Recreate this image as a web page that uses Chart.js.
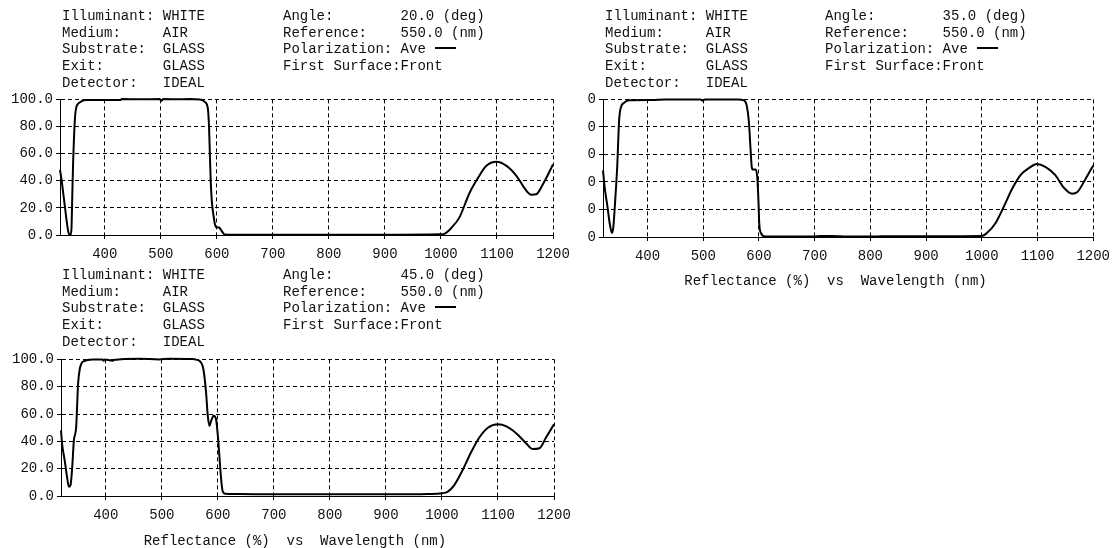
<!DOCTYPE html>
<html>
<head>
<meta charset="utf-8">
<script src="https://cdn.jsdelivr.net/npm/chart.js@4/dist/chart.umd.min.js"></script>
<style>
  body { margin: 0; width: 1117px; height: 548px; background: #fff; position: relative; overflow: hidden;
         font-family: "Liberation Mono", "Courier New", monospace; font-size: 14px; color: #111; }
  .hdr { position: absolute; white-space: pre; line-height: 16.7px; }
  .pol { display: inline-block; width: 21px; height: 0; border-top: 2px solid #000; vertical-align: 4px; margin-left: 9px; }
  .box { position: absolute; }
  .clip { position: absolute; overflow: hidden; }
</style>
</head>
<body>

<div class="box" style="left:0;top:88px"><canvas id="c20" width="580" height="180"></canvas></div>
<div class="clip" style="left:586px;top:88px;width:531px;height:210px">
  <canvas id="c35" width="574" height="210" style="position:absolute;left:-43px;top:0"></canvas>
</div>
<div class="box" style="left:0;top:348px"><canvas id="c45" width="580" height="200"></canvas></div>

<script>
// wavelength (nm) / reflectance (%)
const wl20 = [320, 323, 326, 329, 332, 335, 337, 339, 340.5, 342, 343.5, 345, 347, 349, 353, 358, 367, 400, 427, 430, 498, 501, 504, 507, 552, 570, 579, 584, 586, 587.5, 589, 591, 594.5, 596, 598, 604, 607, 611, 614, 620, 700, 800, 900, 1000, 1007, 1018, 1033, 1051, 1066, 1081, 1099, 1117, 1135, 1150, 1161, 1170, 1182, 1200];
const r20 = [48, 40, 30, 20, 10, 2, 0.3, 0.3, 5, 30, 55, 72, 88, 94, 97, 98.5, 99.5, 99.5, 99.5, 100.3, 100.3, 99, 100.3, 100.3, 100.3, 100, 98, 93, 80, 60, 40, 25, 13, 9, 6, 5.5, 4, 1.5, 0.3, 0.2, 0.2, 0.2, 0.2, 0.5, 1, 5, 13, 31, 42, 51, 54, 51, 43.5, 34, 29.7, 30, 37.5, 52];

const wl35 = [320, 323, 328, 332, 336, 338.5, 341.5, 345.5, 349, 352, 358, 367, 408, 432, 495, 499, 503, 563, 572, 578, 582, 585, 587, 589, 594, 597, 599, 600.5, 603.5, 611, 650, 700, 710, 730, 760, 800, 820, 850, 900, 950, 1000, 1009.5, 1024.5, 1039.5, 1054.5, 1069.5, 1084.5, 1099, 1114, 1132, 1147, 1162, 1171, 1186, 1200];
const r35 = [48.4, 36, 22, 10, 3, 7, 24, 51, 85, 94, 97.6, 99.3, 99.5, 100, 100, 99, 100, 100, 99.5, 95.5, 83, 63, 51, 49, 49, 43, 27, 10, 3, 0.3, 0.3, 0.3, 0.7, 0.7, 0.3, 0.3, 0.6, 0.6, 0.6, 0.6, 0.7, 3, 10, 22, 35, 45, 50, 53, 51, 45, 36, 31.5, 32.5, 42, 52];

const wl45 = [320, 322, 326.6, 330.8, 334, 337, 340, 343, 347, 350.5, 353.5, 361, 376, 394, 396, 398, 412, 414, 460, 495, 513, 555, 567, 573, 576, 579, 582, 585, 588, 592.5, 596.8, 600, 602.7, 605.7, 608.6, 613, 638, 700, 800, 900, 975, 1000, 1010, 1022, 1037, 1052, 1067, 1082, 1100, 1115, 1133, 1150.5, 1162, 1174, 1186, 1200];
const r45 = [48, 38, 26, 14, 6.8, 8, 21, 40.7, 50, 82, 93, 98.8, 100, 100, 99, 100, 99, 99.5, 100.5, 100, 100.5, 100.3, 99, 95, 87.6, 75.5, 58.6, 51.3, 55, 58.7, 56, 44, 29.5, 13, 3.4, 1.7, 1.5, 1.2, 1.2, 1.2, 1.5, 2, 3, 8, 19, 32, 43, 50, 52.5, 51, 45.8, 38.5, 34.4, 35, 43, 52.5];

const angles = ["20.0", "35.0", "45.0"];
const xTitle = "Reflectance (%)  vs  Wavelength (nm)   ";

const FONT = "'Liberation Mono', 'Courier New', monospace";

function header(left, right, top, angle) {
  const a = document.createElement("div");
  a.className = "hdr";
  a.style.left = left + "px";
  a.style.top = top + "px";
  a.textContent = "Illuminant: WHITE\nMedium:     AIR\nSubstrate:  GLASS\nExit:       GLASS\nDetector:   IDEAL";
  document.body.appendChild(a);

  const b = document.createElement("div");
  b.className = "hdr";
  b.style.left = right + "px";
  b.style.top = top + "px";
  b.innerHTML = "Angle:        " + angle + " (deg)\nReference:    550.0 (nm)\nPolarization: Ave<span class=\"pol\"></span>\nFirst Surface:Front";
  document.body.appendChild(b);
}

header(62, 283, 8, angles[0]);
header(605, 825, 8, angles[1]);
header(62, 283, 267, angles[2]);

function makeChart(id, wl, refl, o) {
  const points = wl.map((w, i) => ({ x: w, y: refl[i] }));
  const font = { family: FONT, size: 14 };
  return new Chart(document.getElementById(id), {
    type: "line",
    data: {
      datasets: [{
        data: points,
        borderColor: "#000",
        borderWidth: 2,
        pointRadius: 0,
        fill: false,
        cubicInterpolationMode: "monotone",
        clip: 4,
      }],
    },
    options: {
      responsive: false,
      animation: false,
      events: [],
      layout: { padding: { top: o.padTop, right: o.padRight, left: 0, bottom: 0 } },
      plugins: { legend: { display: false }, tooltip: { enabled: false } },
      scales: {
        x: {
          type: "linear",
          min: 320,
          max: 1200,
          afterBuildTicks: (s) => { s.ticks = s.ticks.filter((t) => t.value % 100 === 0); },
          afterFit: (s) => { s.height = o.xHeight; },
          ticks: { stepSize: 100, autoSkip: false, maxRotation: 0, padding: 7, color: "#111", font: font,
                   callback: (v) => String(v) },
          grid: { color: "#000", lineWidth: 1, tickLength: 4, borderDash: [4, 3], tickBorderDash: [] },
          border: { display: true, color: "#000", width: 1, dash: [4, 3] },
          title: {
            display: !!o.title,
            text: xTitle,
            color: "#111",
            font: { family: FONT, size: 14, lineHeight: 1 },
            padding: { top: 0, bottom: o.titlePad || 0 },
          },
        },
        y: {
          min: 0,
          max: 100,
          afterFit: (s) => { s.width = o.yWidth; },
          ticks: { stepSize: 20, padding: 3, color: "#111", font: font, callback: (v) => v.toFixed(1) },
          grid: { color: "#000", lineWidth: 1, tickLength: 4, borderDash: [4, 3], tickBorderDash: [] },
          border: { display: true, color: "#000", width: 1, dash: [4, 3] },
        },
      },
    },
  });
}

window.onload = function () {
  makeChart("c20", wl20, r20, { padTop: 9, padRight: 27, xHeight: 33, yWidth: 60 });
  makeChart("c35", wl35, r35, { padTop: 11, padRight: 21, xHeight: 61, yWidth: 60, title: true, titlePad: 10 });
  makeChart("c45", wl45, r45, { padTop: 10, padRight: 26, xHeight: 52, yWidth: 61, title: true, titlePad: 0 });
};
</script>
</body>
</html>
